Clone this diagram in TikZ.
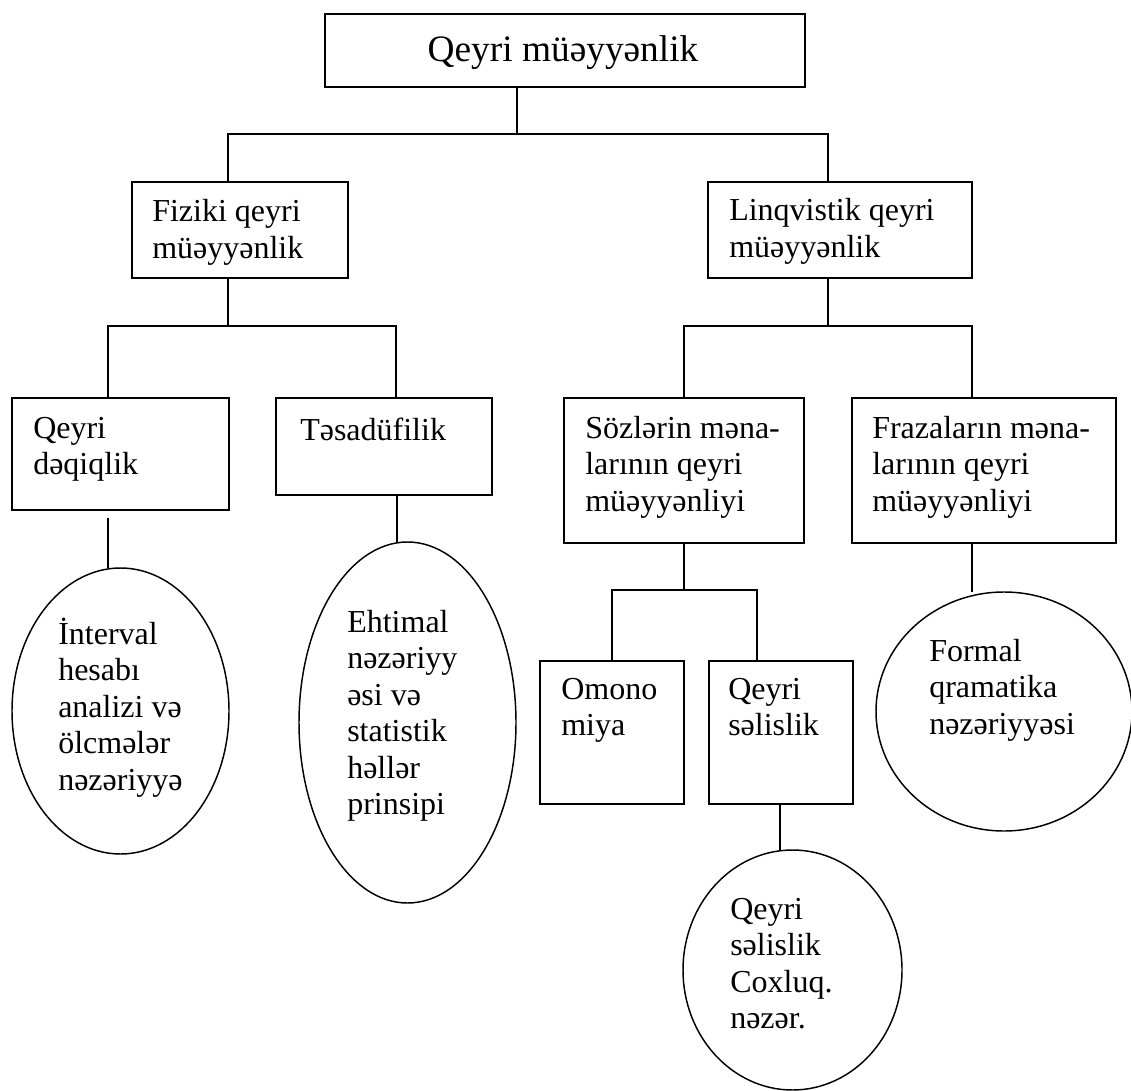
\documentclass[tikz,border=0pt]{standalone}
\usepackage{fontspec}
\setmainfont{Liberation Serif}
\usetikzlibrary{shapes.geometric}
\newcommand\mlines[1]{\vtop{\baselineskip=27.4pt\lineskiplimit=-100pt\halign{##\hfil\cr#1\crcr}}}
\begin{document}
\begin{tikzpicture}[x=0.75pt,y=-0.75pt,
  box/.style={draw,line width=1.3pt,rectangle,inner sep=0pt,outer sep=0pt},
  ell/.style={draw,line width=1.1pt,ellipse,inner sep=0pt,outer sep=0pt},
  txt/.style={anchor=base west,inner sep=0pt,font=\fontsize{24}{27.4}\selectfont},
  link/.style={line width=1.1pt}]
\useasboundingbox (0,0) rectangle (1131,1091);

% boxes
\node[box,minimum width=360pt,minimum height=54.75pt] (top) at (565,50.5) {};
\node[box,minimum width=162pt,minimum height=72pt] (fiz) at (240,230) {};
\node[box,minimum width=198pt,minimum height=72pt] (lin) at (840,230) {};
\node[box,minimum width=162.75pt,minimum height=84pt] (qd) at (120.5,454) {};
\node[box,minimum width=162pt,minimum height=72.75pt] (tes) at (384,446.5) {};
\node[box,minimum width=180pt,minimum height=108.75pt] (soz) at (684,470.5) {};
\node[box,minimum width=198pt,minimum height=108.75pt] (fra) at (984,470.5) {};
\node[box,minimum width=108pt,minimum height=107.25pt] (omo) at (612,732.5) {};
\node[box,minimum width=108pt,minimum height=107.25pt] (qs) at (781,732.5) {};

% ellipses
\node[ell,minimum width=162.75pt,minimum height=214.5pt] (e1) at (120.5,711) {};
\node[ell,minimum width=162.75pt,minimum height=270.75pt] (e2) at (407.5,722.5) {};
\node[ell,minimum width=192pt,minimum height=179.25pt] (e3) at (1004,711.5) {};
\node[ell,minimum width=164.25pt,minimum height=180pt] (e4) at (792.5,970) {};

% junction coordinates
\coordinate (j0) at (517,134);
\coordinate (jL) at (228,134);
\coordinate (jR) at (828,134);
\coordinate (f1) at (228,326);
\coordinate (fL) at (108,326);
\coordinate (fR) at (396,326);
\coordinate (l1) at (828,326);
\coordinate (lL) at (684,326);
\coordinate (lR) at (972,326);
\coordinate (s1) at (684,590);
\coordinate (sL) at (612,590);
\coordinate (sR) at (757,590);
\coordinate (a1) at (108,518);
\coordinate (a2) at (397,0);
\coordinate (a3) at (972,0);
\coordinate (a4) at (780,0);

% connectors
\draw[link] (top.south -| j0) -- (j0);
\draw[link] (fiz.north -| jL) -- (jL) -- (jR) -- (lin.north -| jR);
\draw[link] (fiz.south -| f1) -- (f1);
\draw[link] (qd.north -| fL) -- (fL) -- (fR) -- (tes.north -| fR);
\draw[link] (lin.south -| l1) -- (l1);
\draw[link] (soz.north -| lL) -- (lL) -- (lR) -- (fra.north -| lR);
\draw[link] (soz.south -| s1) -- (s1);
\draw[link] (omo.north -| sL) -- (sL) -- (sR) -- (qs.north -| sR);
\draw[link] (a1) -- (e1.north -| a1);
\draw[link] (tes.south -| a2) -- (e2.north -| a2);
\draw[link] (fra.south -| a3) -- (e3.north -| a3);
\draw[link] (qs.south -| a4) -- (e4.north -| a4);

% texts
\node[inner sep=0pt,anchor=base,font=\fontsize{28}{32}\selectfont] (tTop) at (563,62) {Qeyri müəyyənlik};
\node[txt] (tFiz) at (152,222) {\mlines{Fiziki qeyri\cr müəyyənlik}};
\node[txt] (tLin) at (729,221) {\mlines{Linqvistik qeyri\cr müəyyənlik}};
\node[txt] (tQd) at (33,438) {\mlines{Qeyri\cr dəqiqlik}};
\node[txt] (tTes) at (300,440) {Təsadüfilik};
\node[txt] (tE1) at (58,644) {\mlines{İnterval\cr hesabı\cr analizi və\cr ölcmələr\cr nəzəriyyə}};
\node[txt] (tE2) at (347,632) {\mlines{Ehtimal\cr nəzəriyy\cr əsi və\cr statistik\cr həllər\cr prinsipi}};
\node[txt] (tSoz) at (585,438) {\mlines{Sözlərin məna-\cr larının qeyri\cr müəyyənliyi}};
\node[txt] (tFra) at (872,438) {\mlines{Frazaların məna-\cr larının qeyri\cr müəyyənliyi}};
\node[txt] (tOmo) at (561,699) {\mlines{Omono\cr miya}};
\node[txt] (tQs) at (728,699) {\mlines{Qeyri\cr səlislik}};
\node[txt] (tE3) at (929,661) {\mlines{Formal\cr qramatika\cr nəzəriyyəsi}};
\node[txt] (tE4) at (730,919) {\mlines{Qeyri\cr səlislik\cr Coxluq.\cr nəzər.}};
\end{tikzpicture}
\end{document}
